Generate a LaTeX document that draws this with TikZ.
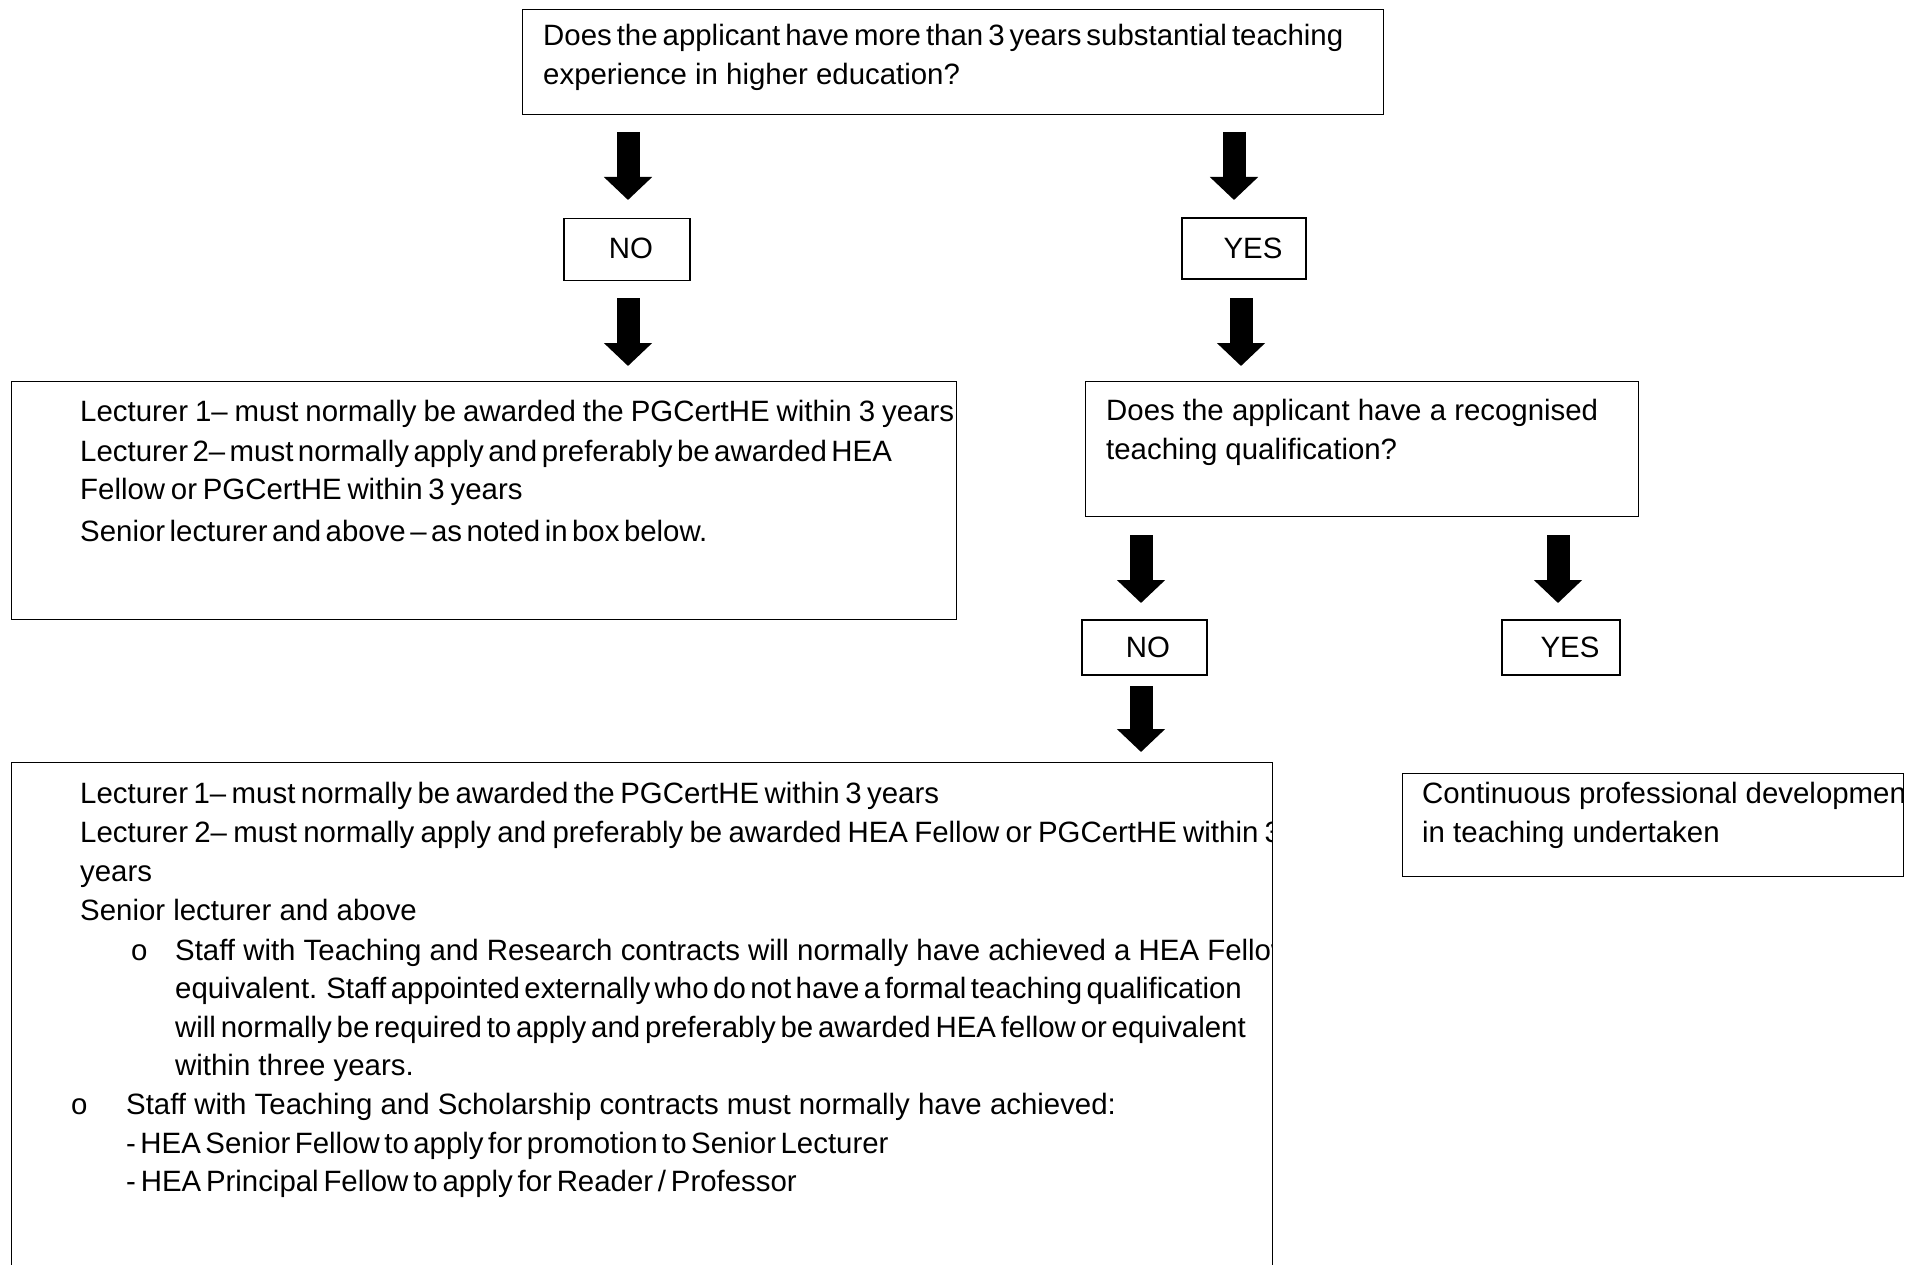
\documentclass[tikz,border=0pt]{standalone}
\usepackage{fontspec}
\setmainfont{Liberation Sans}
\usetikzlibrary{arrows.meta}
\begin{document}
\begin{tikzpicture}[x=1pt,y=-1pt,
  box/.style={draw, line width=1.3pt, anchor=north west, inner sep=0pt},
  lbl/.style={anchor=base west, inner sep=0pt, font=\fontsize{29.4}{39}\selectfont},
  sp/.style={execute at begin node={\spaceskip=#1 plus 0pt minus 0pt\relax}},
  yn/.style={draw, line width=1.3pt, inner sep=0pt, font=\fontsize{29.4}{39}\selectfont},
  bigarrow/.style={line width=23pt, -{Triangle[width=47pt,length=23pt]}}]
\clip (0,0) rectangle (1921,1265);
\fill[white] (0,0) rectangle (1921,1265);

% boxes
\node[box, minimum width=861pt, minimum height=105pt] (q1) at (522,9) {};
\node[box, minimum width=945pt, minimum height=238pt] (lb) at (11,381) {};
\node[box, minimum width=553pt, minimum height=135pt] (q2) at (1085,381) {};
\node[box, minimum width=501pt, minimum height=103pt] (cpd) at (1402,773) {};
\node[box, minimum width=1261pt, minimum height=560pt] (bb) at (11,762) {};

\node[yn, minimum width=126pt, minimum height=62pt] (no1) at (627,249.5) {\hspace{8pt}\raisebox{3pt}{NO}};
\node[yn, minimum width=124pt, minimum height=61pt] (yes1) at (1244,248.5) {\hspace{18pt}YES};
\node[yn, minimum width=125pt, minimum height=55pt] (no2) at (1144.5,647.5) {\hspace{7pt}NO};
\node[yn, minimum width=118pt, minimum height=55pt] (yes2) at (1561,647.5) {\hspace{18pt}YES};

% arrows
\coordinate (a1s) at (628,132); \coordinate (a1e) at (628,200);
\coordinate (a2s) at (628,298); \coordinate (a2e) at (628,366);
\coordinate (a3s) at (1234,132); \coordinate (a3e) at (1234,200);
\coordinate (a4s) at (1241,298); \coordinate (a4e) at (1241,366);
\coordinate (a5s) at (1141,535); \coordinate (a5e) at (1141,603);
\coordinate (a6s) at (1558,535); \coordinate (a6e) at (1558,603);
\coordinate (a7s) at (1141,686); \coordinate (a7e) at (1141,752);
\foreach \i in {1,...,7} {\draw[bigarrow] (a\i s) -- (a\i e);}

% top question
\node[lbl, sp=5pt] (t1) at (543,46) {Does the applicant have more than 3 years substantial teaching};
\node[lbl] (t2) at (543,85) {experience in higher education?};

% left box
\begin{scope}
\clip (11,381) rectangle (956,619);
\node[lbl, sp=7pt] (l1) at (80,421) {Lecturer 1– must normally be awarded the PGCertHE within 3 years};
\node[lbl, sp=4.5pt] (l2) at (80,461) {Lecturer 2– must normally apply and preferably be awarded HEA};
\node[lbl, sp=5.8pt] (l3) at (80,499) {Fellow or PGCertHE within 3 years};
\node[lbl, sp=4.5pt] (l4) at (80,541) {Senior lecturer and above – as noted in box below.};
\end{scope}

% second question
\node[lbl] (r1) at (1106,420) {Does the applicant have a recognised};
\node[lbl] (r2) at (1106,459) {teaching qualification?};

% CPD box
\begin{scope}
\clip (1402,773) rectangle (1903,876);
\node[lbl] (c1) at (1422,803) {Continuous professional development};
\node[lbl] (c2) at (1422,842) {in teaching undertaken};
\end{scope}

% bottom box
\begin{scope}
\clip (11,762) rectangle (1272,1265);
\node[lbl, sp=5.5pt] (b1) at (80,803) {Lecturer 1– must normally be awarded the PGCertHE within 3 years};
\node[lbl, sp=6.3pt] (b2) at (80,842) {Lecturer 2– must normally apply and preferably be awarded HEA Fellow or PGCertHE within 3};
\node[lbl] (b3) at (80,881) {years};
\node[lbl] (b4) at (80,920) {Senior lecturer and above};
\node[lbl] (o1) at (131,960) {o};
\node[lbl] (b5) at (175,960) {Staff with Teaching and Research contracts will normally have achieved a HEA Fellow or};
\node[lbl, sp=4.5pt] (b6) at (175,998) {equivalent.\ \ Staff appointed externally who do not have a formal teaching qualification};
\node[lbl, sp=4.8pt] (b7) at (175,1037) {will normally be required to apply and preferably be awarded HEA fellow or equivalent};
\node[lbl] (b8) at (175,1075) {within three years.};
\node[lbl] (o2) at (71,1114) {o};
\node[lbl] (b9) at (126,1114) {Staff with Teaching and Scholarship contracts must normally have achieved:};
\node[lbl, sp=4.5pt] (b10) at (126,1153) {- HEA Senior Fellow to apply for promotion to Senior Lecturer};
\node[lbl, sp=4.8pt] (b11) at (126,1191) {- HEA Principal Fellow to apply for Reader / Professor};
\end{scope}
\end{tikzpicture}
\end{document}
